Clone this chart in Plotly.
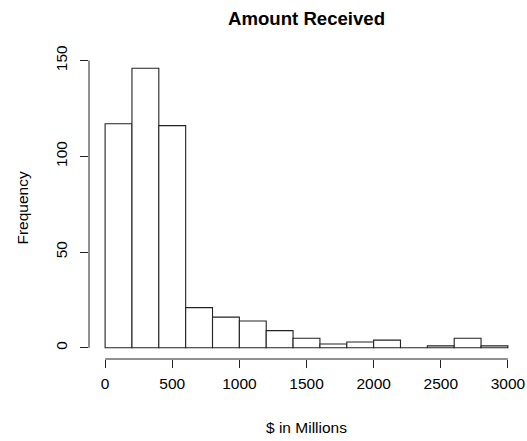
import plotly.graph_objects as go

# Histogram of amounts received, bins of $200M
bin_edges = [0, 200, 400, 600, 800, 1000, 1200, 1400, 1600, 1800, 2000,
             2200, 2400, 2600, 2800, 3000]
counts = [117, 146, 116, 21, 16, 14, 9, 5, 2, 3, 4, 0, 1, 5, 1]
x_ticks = [0, 500, 1000, 1500, 2000, 2500, 3000]
y_ticks = [0, 50, 100, 150]

mids = [(a + b) / 2 for a, b in zip(bin_edges[:-1], bin_edges[1:])]
widths = [b - a for a, b in zip(bin_edges[:-1], bin_edges[1:])]

FONT = "Liberation Sans, Arial, Helvetica, sans-serif"
BASE = 15.5

fig = go.Figure(go.Bar(
    x=mids, y=counts, width=widths,
    marker=dict(color="white", line=dict(color="#222222", width=1.1)),
    hoverinfo="skip",
))

# R-style padding: 4% beyond the data range on each axis
xlo, xhi = bin_edges[0], bin_edges[-1]
ylo, yhi = 0, max(counts)
xpad = 0.04 * (xhi - xlo)
ypad = 0.04 * (yhi - ylo)

fig.update_layout(
    width=527, height=441,
    margin=dict(l=88.6, r=2.6, t=56.8, b=81.5),
    paper_bgcolor="white", plot_bgcolor="white",
    font=dict(family=FONT, size=BASE, color="black"),
    showlegend=False,
    xaxis=dict(range=[xlo - xpad, xhi + xpad], tickvals=x_ticks,
               ticks="outside", ticklen=8, tickwidth=1, tickcolor="#222222",
               showgrid=False, zeroline=False, showline=False,
               ticklabelstandoff=2, tickfont=dict(size=BASE)),
    yaxis=dict(range=[ylo - ypad, yhi + ypad], tickvals=y_ticks,
               ticks="outside", ticklen=8, tickwidth=1, tickcolor="#222222",
               showgrid=False, zeroline=False, showline=False,
               tickangle=-90, ticklabelstandoff=7, tickfont=dict(size=BASE)),
    shapes=[
        dict(type="line", xref="x", yref="paper", x0=x_ticks[0], x1=x_ticks[-1],
             y0=0, y1=0, line=dict(color="#222222", width=1)),
        dict(type="line", xref="paper", yref="y", x0=0, x1=0,
             y0=y_ticks[0], y1=y_ticks[-1], line=dict(color="#222222", width=1)),
    ],
    annotations=[
        dict(text="<b>Amount Received</b>", xref="paper", yref="paper",
             x=0.5, y=1.128, xanchor="center", yanchor="middle",
             showarrow=False, font=dict(size=BASE * 1.2)),
        dict(text="$ in Millions", xref="paper", yref="paper",
             x=0.5, y=-0.226, xanchor="center", yanchor="middle",
             showarrow=False, font=dict(size=BASE)),
        dict(text="Frequency", xref="paper", yref="paper",
             x=-0.155, y=0.5, xanchor="center", yanchor="middle",
             textangle=-90, showarrow=False, font=dict(size=BASE)),
    ],
)

fig.write_html("out.html")
